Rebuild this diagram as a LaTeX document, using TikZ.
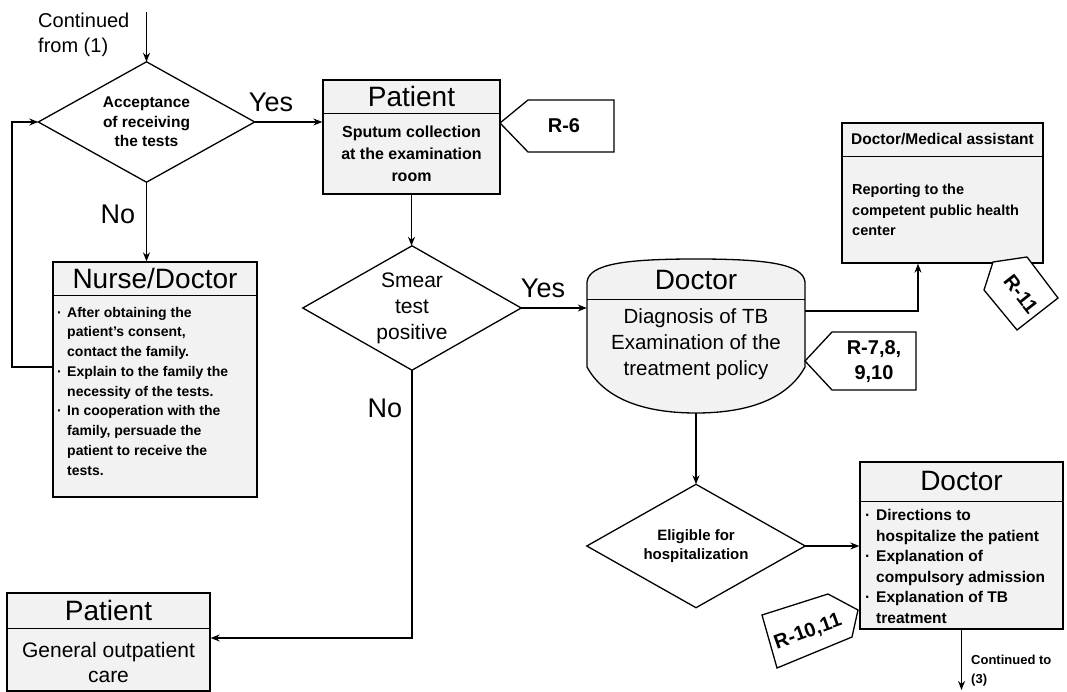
\documentclass[tikz,border=0pt]{standalone}
\usepackage{fontspec}
\setmainfont{Liberation Sans}
\usetikzlibrary{arrows.meta,calc}
\newcommand\myfs[2]{\fontsize{#1}{#2}\selectfont}
\newcommand\mybul{\makebox[10pt][l]{·}}
\newcommand\myind{\hspace*{10pt}}
\newcommand\mybulb{\makebox[11pt][l]{·}}
\newcommand\myindb{\hspace*{11pt}}
\begin{document}
\begin{tikzpicture}[x=1pt,y=-1pt,
  lw/.style={line width=1.3pt},
  box/.style={draw, lw, fill=black!5, inner sep=0pt},
  dia/.style={inner sep=0pt, align=center},
  arr/.style={lw, -{Stealth[length=9pt,width=7pt]}},
  ttl/.style={font=\myfs{28}{30}, inner sep=0pt},
  lbl/.style={font=\myfs{27}{30}, inner sep=0pt},
  tagb/.style={draw, lw, fill=white, line join=miter},
  tagt/.style={font=\bfseries\myfs{20}{25}, align=center, inner sep=0pt},
  body/.style={inner sep=0pt}
]
\useasboundingbox (0,0) rectangle (1067,692);

% ---- top left: continued from (1) and first decision
\node[anchor=west, align=left, inner sep=0pt, font=\myfs{20}{25}] (cont) at (38,35) {Continued\\from (1)};
\coordinate (c1) at (146.5,12);
\node[dia, minimum width=216pt, minimum height=120pt, font=\bfseries\myfs{15.5}{19.5}] (d1) at (146.5,122) {Acceptance\\of receiving\\the tests};
\draw[lw] (d1.north) -- (d1.east) -- (d1.south) -- (d1.west) -- cycle;
\draw[arr] (c1) -- (d1.north);
\node[lbl] (yes1) at (271,102) {Yes};
\node[lbl] (no1) at (118,214) {No};

% ---- Nurse/Doctor
\node[box, minimum width=204pt, minimum height=235pt] (nd) at (155,379.5) {};
\draw[lw] ([yshift=-34pt]nd.north west) -- ([yshift=-34pt]nd.north east);
\node[ttl] (ndt) at ($(nd.north)+(0,17)$) {Nurse/Doctor};
\node[body, anchor=west, align=left, font=\bfseries\myfs{14}{19.75}] (ndb) at (57,391)
 {\mybul After obtaining the\\\myind patient's consent,\\\myind contact the family.\\
  \mybul Explain to the family the\\\myind necessity of the tests.\\
  \mybul In cooperation with the\\\myind family, persuade the\\\myind patient to receive the\\\myind tests.};

% ---- Patient (sputum)
\node[box, minimum width=177pt, minimum height=114pt] (p1) at (411.5,137) {};
\draw[lw] ([yshift=-34pt]p1.north west) -- ([yshift=-34pt]p1.north east);
\node[ttl] (p1t) at ($(p1.north)+(0,17)$) {Patient};
\node[body, align=center, font=\bfseries\myfs{16}{22}] (p1b) at (411.5,154) {Sputum collection\\at the examination\\room};

% R-6 tag
\draw[tagb] (500,123) -- (528,100) -- (614,100) -- (614,152) -- (528,152) -- cycle;
\node[tagt] (r6) at (564,126) {R-6};

% ---- Smear decision
\node[dia, minimum width=218pt, minimum height=124pt, font=\myfs{21}{26}] (sm) at (412,308) {Smear\\test\\positive};
\draw[lw] (sm.north) -- (sm.east) -- (sm.south) -- (sm.west) -- cycle;
\node[lbl] (yes2) at (543,288) {Yes};
\node[lbl] (no2) at (385,408) {No};

% ---- Doctor (diagnosis)
\node[minimum width=218pt, minimum height=154pt, inner sep=0pt] (doc) at (696,336) {};
\draw[lw, fill=black!5] (587,367) -- (587,282) .. controls (589,264) and (625,259) .. (696,259)
   .. controls (767,259) and (803,264) .. (805,282) -- (805,367)
   .. controls (788,398) and (750,413) .. (696,413)
   .. controls (642,413) and (604,398) .. (587,367) -- cycle;
\draw[lw] ([yshift=-41pt]doc.north west) -- ([yshift=-41pt]doc.north east);
\node[ttl] (doct) at (696,280) {Doctor};
\node[body, align=center, font=\myfs{20.5}{26}] (docb) at (696,344) {Diagnosis of TB\\Examination of the\\treatment policy};

% R-7,8,9,10 tag
\draw[tagb] (805,361) -- (832,332) -- (916,332) -- (916,390) -- (832,390) -- cycle;
\node[tagt] (r7) at (874,362) {R-7,8,\\9,10};

% ---- Doctor/Medical assistant
\node[box, minimum width=201pt, minimum height=140pt] (dma) at (942.5,193) {};
\draw[lw] ([yshift=-34pt]dma.north west) -- ([yshift=-34pt]dma.north east);
\node[inner sep=0pt, font=\bfseries\myfs{15.5}{18}] (dmat) at ($(dma.north)+(0,17)$) {Doctor/Medical assistant};
\node[body, anchor=west, align=left, font=\bfseries\myfs{14.5}{20.5}] (dmab) at (852,210) {Reporting to the\\competent public health\\center};

% R-11 tag
\draw[tagb] (993,262) -- (1027,257) -- (1058,298) -- (1017,330) -- (984,290) -- cycle;
\node[tagt, rotate=-52] (r11) at (1021,294) {R-11};

% ---- Eligible decision
\node[dia, minimum width=218pt, minimum height=123pt, font=\bfseries\myfs{15}{19}] (el) at (696,546) {Eligible for\\hospitalization};
\draw[lw] (el.north) -- (el.east) -- (el.south) -- (el.west) -- cycle;

% ---- Doctor (hospitalization)
\node[box, minimum width=203pt, minimum height=167pt] (d3) at (961.5,545.5) {};
\draw[lw] ([yshift=-40pt]d3.north west) -- ([yshift=-40pt]d3.north east);
\node[ttl] (d3t) at ($(d3.north)+(0,20)$) {Doctor};
\node[body, anchor=west, align=left, font=\bfseries\myfs{15.5}{20.6}] (d3b) at (865,566.5)
 {\mybulb Directions to\\\myindb hospitalize the patient\\\mybulb Explanation of\\\myindb compulsory admission\\\mybulb Explanation of TB\\\myindb treatment};

% R-10,11 tag
\draw[tagb] (762,615) -- (828,594) -- (858,610) -- (852,637) -- (777,668) -- cycle;
\node[tagt, rotate=20] (r10) at (808,632) {R-10,11};

\coordinate (c3) at (961.5,690);
\node[anchor=west, align=left, inner sep=0pt, font=\bfseries\myfs{13}{19}] (cont3) at (971,671) {Continued to\\(3)};

% ---- Patient (outpatient)
\node[box, minimum width=203pt, minimum height=98pt] (p2) at (108.5,642) {};
\draw[lw] ([yshift=-36pt]p2.north west) -- ([yshift=-36pt]p2.north east);
\node[ttl] (p2t) at ($(p2.north)+(0,18)$) {Patient};
\node[body, align=center, font=\myfs{21}{25}] (p2b) at (108.5,662) {General outpatient\\care};

% ---- connectors
\coordinate (lp) at (12,0);
\draw[arr] ([yshift=12.5pt]nd.west) -| (lp |- d1.west) -- (d1.west);
\draw[arr] (d1.east) -- (d1.east -| p1.west);
\draw[arr] (d1.south) -- (d1.south |- nd.north);
\draw[arr] (p1.south) -- (p1.south |- sm.north);
\draw[arr] (sm.east) -- (sm.east -| doc.west);
\draw[arr] ([yshift=25pt]doc.east) -| ([xshift=-24.5pt]dma.south);
\draw[arr] (doc.south) -- (el.north);
\draw[arr] (el.east) -- (el.east -| d3.west);
\draw[arr] (d3.south) -- (c3);
\draw[arr] (sm.south) |- ([yshift=4pt]p2.east);
\end{tikzpicture}
\end{document}
